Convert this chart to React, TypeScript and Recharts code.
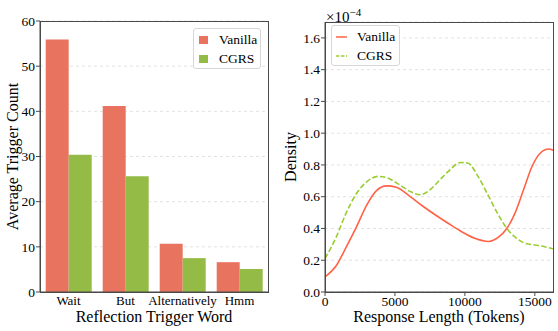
import { Bar, BarChart, CartesianGrid, Legend, Line, LineChart, XAxis, YAxis } from "recharts";

const triggerWords = ["Wait", "But", "Alternatively", "Hmm"];
const vanillaCounts = [55.9, 41.2, 10.7, 6.6];
const cgrsCounts = [30.4, 25.6, 7.5, 5.1];
const countTicks = [0, 10, 20, 30, 40, 50, 60];

// response length (tokens) vs density in units of 1e-4
const vanillaTokens = [0, 800, 1500, 2250, 3000, 3700, 4400, 5100, 6100, 7000, 7900, 8800, 9800, 10700, 11700, 12400, 13000, 13600, 14200, 14800, 15400, 16000, 16300];
const vanillaDensity = [0.095, 0.165, 0.28, 0.41, 0.55, 0.64, 0.668, 0.66, 0.6, 0.54, 0.485, 0.433, 0.378, 0.338, 0.318, 0.345, 0.4, 0.5, 0.645, 0.79, 0.875, 0.9, 0.893];
const cgrsTokens = [0, 800, 1500, 2250, 3000, 3800, 4400, 5350, 6100, 6800, 7500, 8200, 8800, 9700, 10200, 10950, 11650, 12400, 13000, 13600, 14300, 15000, 15700, 16300];
const cgrsDensity = [0.21, 0.345, 0.495, 0.62, 0.695, 0.728, 0.72, 0.674, 0.632, 0.612, 0.643, 0.705, 0.758, 0.815, 0.812, 0.726, 0.611, 0.485, 0.4, 0.345, 0.307, 0.296, 0.285, 0.272];
const densityTicks = [0, 0.2, 0.4, 0.6, 0.8, 1.0, 1.2, 1.4, 1.6];
const lengthTicks = [0, 5000, 10000, 15000];

const FONT = '"Liberation Serif", "Times New Roman", serif';
const AXIS = "#4a4a4a";
const BAR_RED = "#E8735F";
const BAR_GREEN = "#95BB47";
const LINE_RED = "#FF6347";
const LINE_GREEN = "#9ACD32";
const tickStyle = { fill: "#000", fontSize: 13.5, fontFamily: FONT };
const wordTickStyle = { ...tickStyle, fontSize: 13 };
const labelStyle = { fill: "#000", fontSize: 16, fontFamily: FONT, textAnchor: "middle" as const };

const barData = triggerWords.map((word, i) => ({
  word,
  vanilla: vanillaCounts[i],
  cgrs: cgrsCounts[i],
}));
const vanillaData = vanillaTokens.map((t, i) => ({ t, v: vanillaDensity[i] }));
const cgrsData = cgrsTokens.map((t, i) => ({ t, v: cgrsDensity[i] }));

const legendBox = {
  background: "#fff",
  border: "1px solid #d6d6d6",
  borderRadius: 3,
  fontFamily: FONT,
  fontSize: 13.5,
  color: "#000",
  boxSizing: "border-box" as const,
  height: 41,
  padding: "1px 0 0 0",
  lineHeight: "19px",
};

function BarLegend() {
  return (
    <div style={{ ...legendBox, width: 68, paddingLeft: 5 }}>
      {[
        ["Vanilla", BAR_RED],
        ["CGRS", BAR_GREEN],
      ].map(([name, color]) => (
        <div key={name} style={{ display: "flex", alignItems: "center", height: 19 }}>
          <span style={{ width: 9, height: 8, background: color, marginRight: 11, display: "inline-block" }} />
          <span>{name}</span>
        </div>
      ))}
    </div>
  );
}

function LineLegend() {
  return (
    <div style={{ ...legendBox, width: 69, paddingLeft: 4 }}>
      {[
        ["Vanilla", LINE_RED, undefined],
        ["CGRS", LINE_GREEN, "3.5 1.5"],
      ].map(([name, color, dash]) => (
        <div key={name} style={{ display: "flex", alignItems: "center", height: 19 }}>
          <svg width={11} height={6} style={{ marginRight: 10 }}>
            <line x1={0} y1={3} x2={11} y2={3} stroke={color} strokeWidth={1.5} strokeDasharray={dash} />
          </svg>
          <span>{name}</span>
        </div>
      ))}
    </div>
  );
}

const frame = (left: number, top: number, width: number, height: number) => ({
  position: "absolute" as const,
  left,
  top,
  width,
  height,
  border: `1px solid ${AXIS}`,
  boxSizing: "border-box" as const,
  pointerEvents: "none" as const,
});

export default function App() {
  return (
    <div style={{ position: "absolute", left: 0, top: 0, width: 558, height: 331, background: "#fff", overflow: "hidden" }}>
      <div style={{ position: "absolute", left: 0, top: 0 }}>
        <BarChart
          width={280}
          height={331}
          data={barData}
          margin={{ top: 21, right: 12, bottom: 0, left: 0 }}
          barCategoryGap="10%"
          barGap={0}
        >
          <CartesianGrid vertical={false} stroke="#e2e2e2" strokeDasharray="3 3" />
          <XAxis
            dataKey="word"
            height={39}
            tick={wordTickStyle}
            tickSize={4}
            tickMargin={0}
            tickLine={false}
            axisLine={{ stroke: AXIS }}
            interval={0}
            label={{ value: "Reflection Trigger Word", position: "insideBottom", offset: 9, style: labelStyle }}
          />
          <YAxis
            width={40}
            domain={[0, 60]}
            ticks={countTicks}
            tick={tickStyle}
            tickSize={4}
            tickMargin={1}
            tickLine={{ stroke: AXIS }}
            axisLine={{ stroke: AXIS }}
            label={{ value: "Average Trigger Count", angle: -90, position: "insideLeft", offset: 12, style: labelStyle }}
          />
          <Legend
            verticalAlign="middle"
            align="center"
            layout="horizontal"
            content={() => <BarLegend />}
            wrapperStyle={{ left: 193, top: 28, width: "auto" }}
          />
          <Bar dataKey="vanilla" name="Vanilla" fill={BAR_RED} isAnimationActive={false} />
          <Bar dataKey="cgrs" name="CGRS" fill={BAR_GREEN} isAnimationActive={false} />
        </BarChart>
        <div style={frame(40, 21, 229, 272)} />
      </div>

      <div style={{ position: "absolute", left: 280, top: 0 }}>
        <LineChart width={278} height={331} margin={{ top: 22, right: 5, bottom: 0, left: 0 }}>
          <CartesianGrid vertical={false} stroke="#e2e2e2" strokeDasharray="3 3" />
          <XAxis
            type="number"
            dataKey="t"
            domain={[0, 16300]}
            ticks={lengthTicks}
            height={39}
            tick={tickStyle}
            tickSize={4}
            tickMargin={0}
            tickLine={{ stroke: AXIS }}
            axisLine={{ stroke: AXIS }}
            allowDataOverflow
            label={{ value: "Response Length (Tokens)", position: "insideBottom", offset: 9, style: labelStyle }}
          />
          <YAxis
            type="number"
            width={45}
            domain={[0, 1.7]}
            ticks={densityTicks}
            tickFormatter={(v: number) => v.toFixed(1)}
            tick={tickStyle}
            tickSize={4}
            tickMargin={1}
            tickLine={{ stroke: AXIS }}
            axisLine={{ stroke: AXIS }}
            label={{ value: "Density", angle: -90, position: "insideLeft", offset: 10, style: labelStyle }}
          />
          <Legend
            verticalAlign="middle"
            align="center"
            layout="horizontal"
            content={() => <LineLegend />}
            wrapperStyle={{ left: 51, top: 25, width: "auto" }}
          />
          <Line
            data={vanillaData}
            dataKey="v"
            name="Vanilla"
            type="monotone"
            stroke={LINE_RED}
            strokeWidth={1.6}
            dot={false}
            isAnimationActive={false}
          />
          <Line
            data={cgrsData}
            dataKey="v"
            name="CGRS"
            type="monotone"
            stroke={LINE_GREEN}
            strokeWidth={1.6}
            strokeDasharray="5.5 2.4"
            dot={false}
            isAnimationActive={false}
          />
        </LineChart>
        <div style={frame(45, 22, 229, 271)} />
        <div style={{ position: "absolute", left: 46, top: 3, fontFamily: FONT, fontSize: 15, color: "#000", lineHeight: "18px" }}>
          ×10<sup style={{ fontSize: 11, verticalAlign: "6px" }}>−4</sup>
        </div>
      </div>
    </div>
  );
}
